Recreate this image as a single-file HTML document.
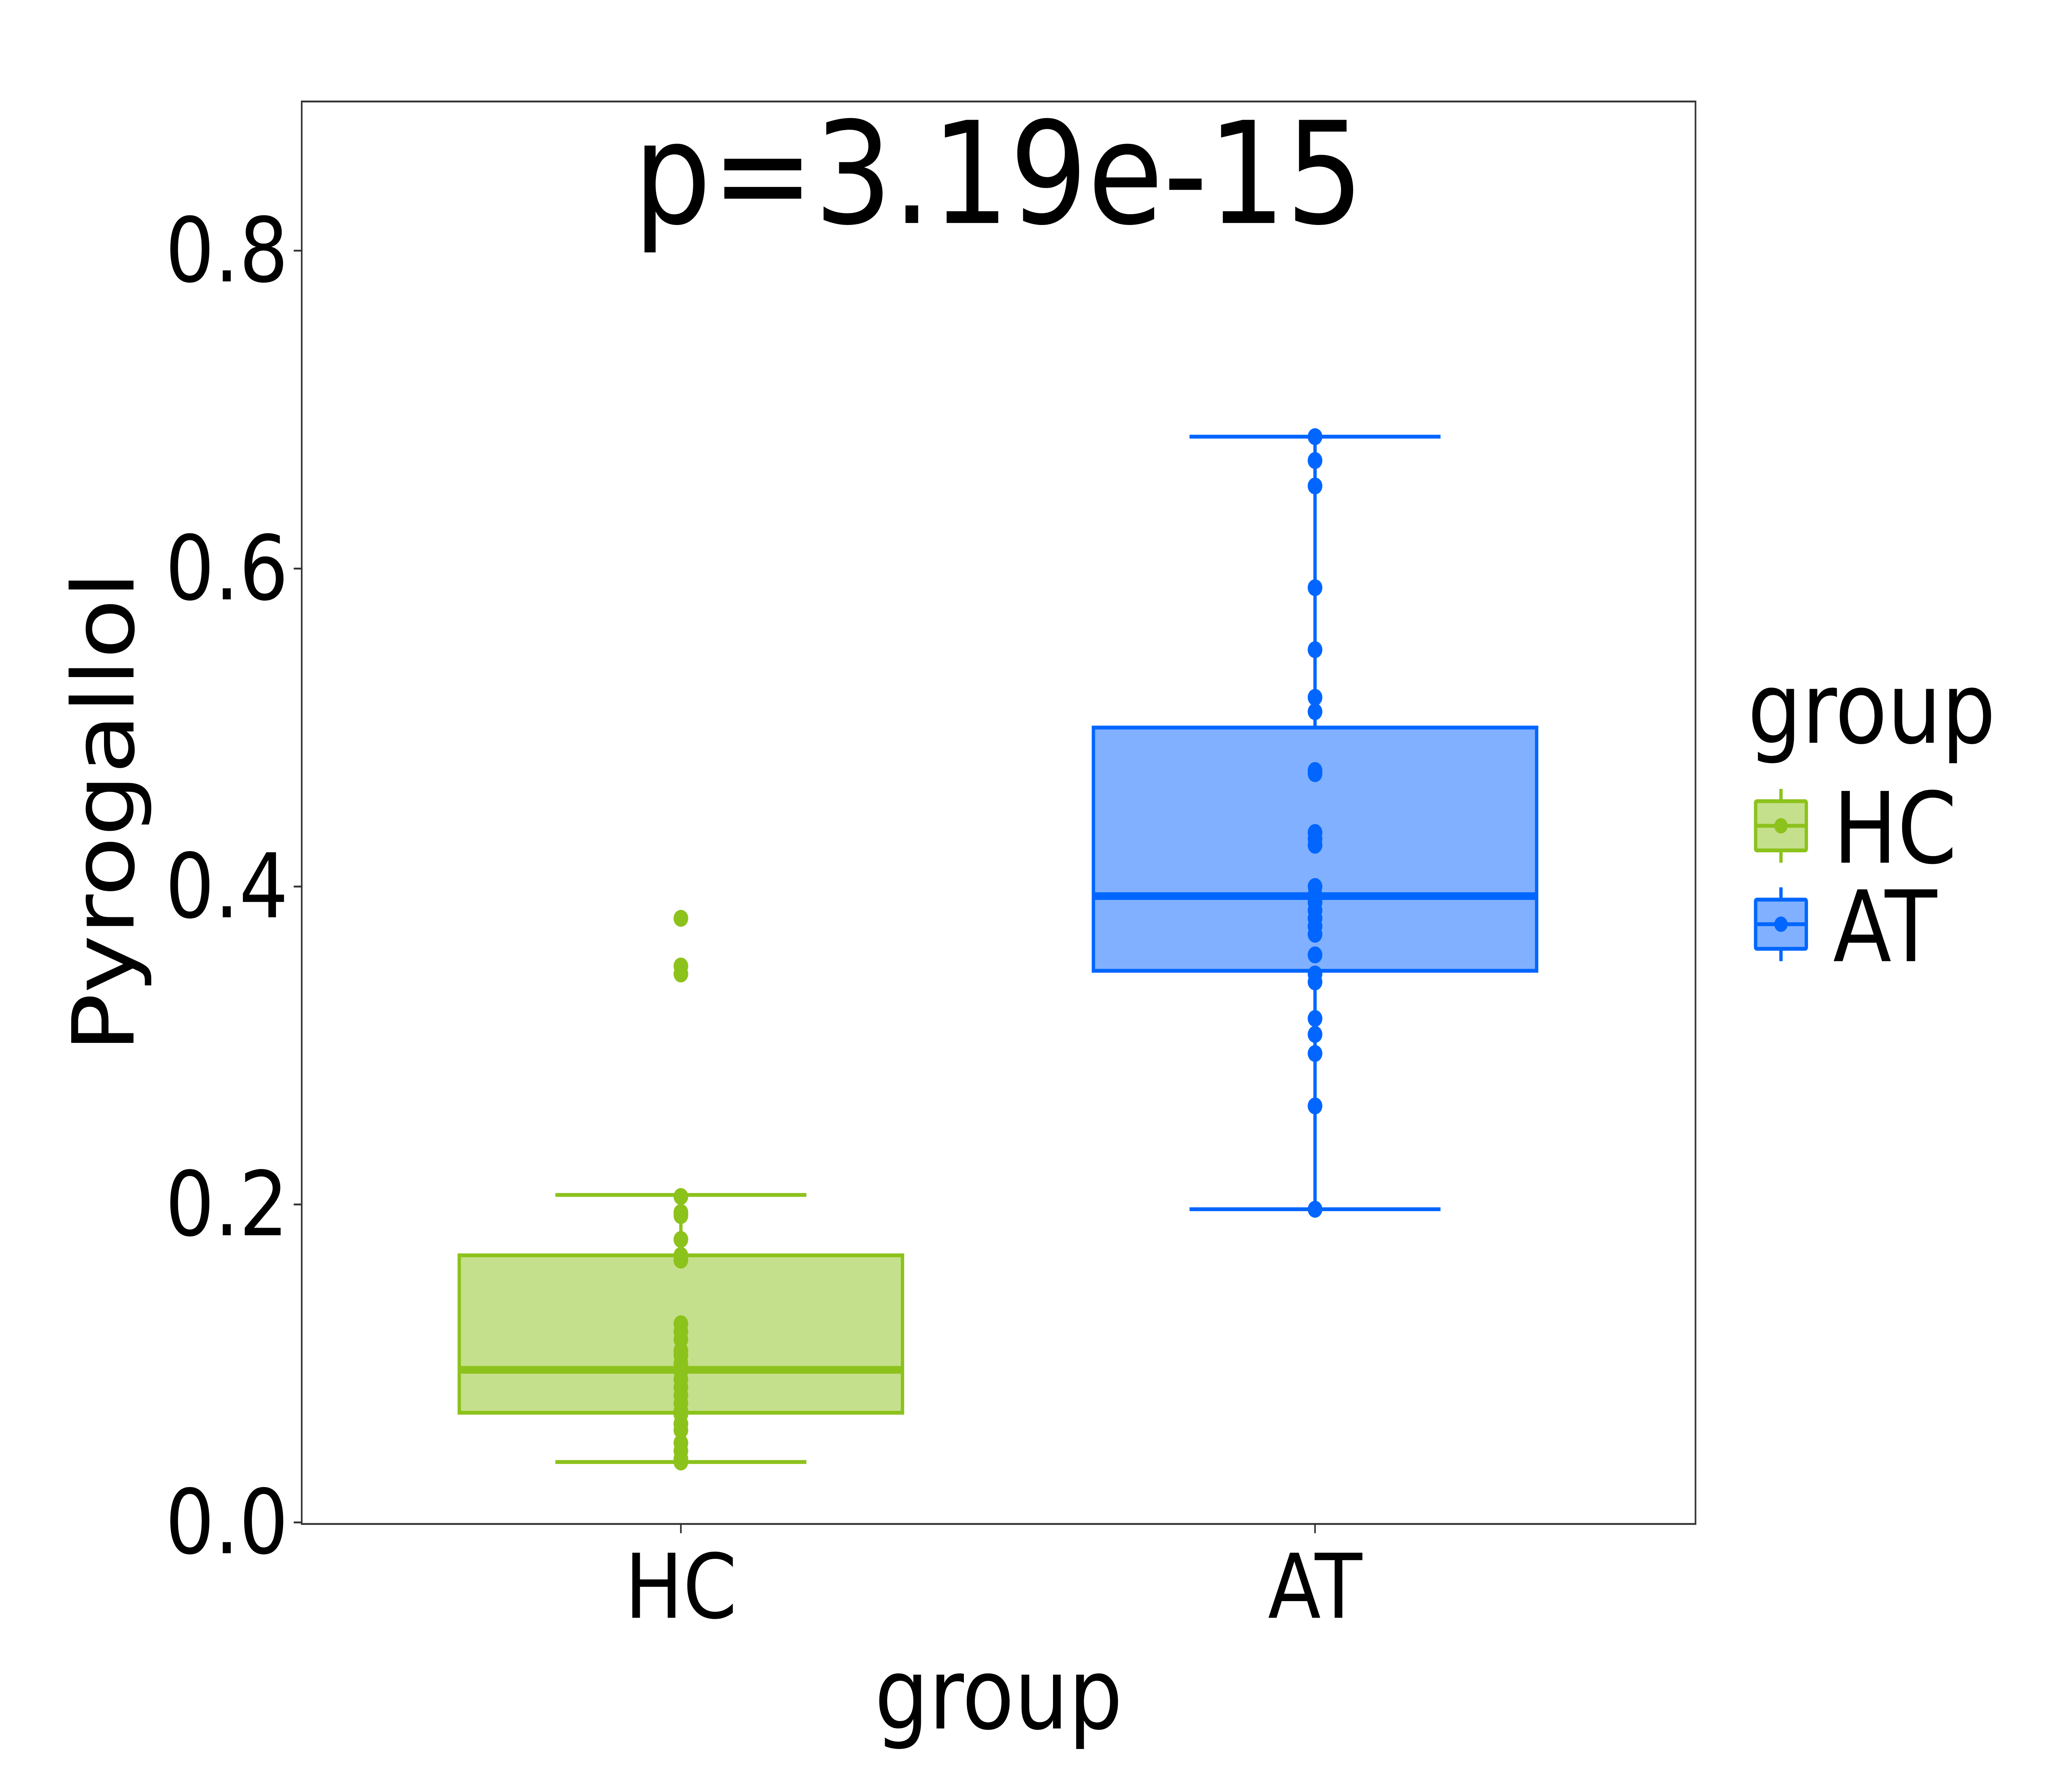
<!DOCTYPE html>
<html><head><meta charset="utf-8"><style>
html,body{margin:0;padding:0;background:#fff;overflow:hidden;width:100%;height:100%;}
svg{display:block;position:fixed;left:0;top:0;width:100vw;height:100vh;font-family:"DejaVu Sans","Liberation Sans",sans-serif;}
</style></head><body>
<svg id="chart" viewBox="0 0 1552 1164" preserveAspectRatio="none" xmlns="http://www.w3.org/2000/svg">
<rect x="0" y="0" width="1552" height="1164" fill="#fff"/>
<g id="plot"></g>
</svg>
<script>
const categories = ["HC","AT"];
const fills = ["#c5e08c","#80b0ff"];
const strokes = ["#8cc21c","#0066ff"];
const q1 = [0.069,0.347];
const medians = [0.096,0.394];
const q3 = [0.168,0.500];
const whiskLo = [0.038,0.197];
const whiskHi = [0.206,0.683];
const hcPoints = [0.38,0.35,0.345,0.205,0.195,0.193,0.178,0.168,0.165,0.125,0.12,0.115,0.108,0.105,0.1,0.097,0.095,0.09,0.085,0.08,0.075,0.07,0.068,0.062,0.058,0.05,0.045,0.04,0.038];
const atPoints = [0.683,0.668,0.652,0.588,0.549,0.519,0.51,0.473,0.471,0.434,0.43,0.426,0.4,0.395,0.39,0.385,0.38,0.375,0.37,0.357,0.345,0.34,0.317,0.307,0.295,0.262,0.197];
const yTicks = [0.0,0.2,0.4,0.6,0.8];
const yTickLabels = ["0.0","0.2","0.4","0.6","0.8"];

const NS="http://www.w3.org/2000/svg";
const g=document.getElementById('plot');
const PL=226,PT=66,PR=1270,PB=991;
function y(v){return 990-(990-163)*v/0.8;}
function x(i){return 510+i*475;}
function mk(t,a){const e=document.createElementNS(NS,t);for(const k in a)e.setAttribute(k,a[k]);g.appendChild(e);return e;}

const panel=mk('rect',{x:PL,y:PT,width:PR-PL,height:PB-PT,fill:'none',stroke:'#333','stroke-width':1.2});



yTicks.forEach((v,i)=>{
  const t=mk('line',{x1:PL-6,x2:PL,y1:y(v),y2:y(v),stroke:'#333','stroke-width':1.2});
  
  
  const l=mk('text',{x:PL-10,y:y(v)+20,'text-anchor':'end','font-size':58,fill:'#000'});
  l.textContent=yTickLabels[i];
  
  
});
categories.forEach((c,i)=>{
  const t=mk('line',{x1:x(i),x2:x(i),y1:PB,y2:PB+6,stroke:'#333','stroke-width':1.2});
  
  
  const l=mk('text',{x:x(i),y:1052,'text-anchor':'middle','font-size':58,fill:'#000'});
  l.textContent=c;
  
  
});

const pts=[hcPoints,atPoints];
categories.forEach((c,i)=>{
  const cx=x(i),hw=166,cw=94;
  const w1=mk('line',{x1:cx,x2:cx,y1:y(whiskHi[i]),y2:y(whiskLo[i]),stroke:strokes[i],'stroke-width':2.5});
  
  
  [whiskLo[i],whiskHi[i]].forEach(v=>{
    const cap=mk('line',{x1:cx-cw,x2:cx+cw,y1:y(v),y2:y(v),stroke:strokes[i],'stroke-width':2.5});
    
    
  });
  const b=mk('rect',{x:cx-hw,y:y(q3[i]),width:2*hw,height:y(q1[i])-y(q3[i]),fill:fills[i],stroke:strokes[i],'stroke-width':2.5});
  
  
  const m=mk('line',{x1:cx-hw,x2:cx+hw,y1:y(medians[i]),y2:y(medians[i]),stroke:strokes[i],'stroke-width':5});
  
  
  pts[i].forEach(v=>{
    const p=mk('circle',{cx:cx,cy:y(v),r:5.5,fill:strokes[i]});
    
    
  });
});

const title=mk('text',{x:748,y:145,'text-anchor':'middle','font-size':92,fill:'#000'});
title.textContent='p=3.19e-15';


const xt=mk('text',{x:748,y:1124,'text-anchor':'middle','font-size':64,fill:'#000'});
xt.textContent='group';


const yt=mk('text',{x:0,y:0,'text-anchor':'middle','font-size':64,fill:'#000',transform:'translate(100,528) rotate(-90)'});
yt.textContent='Pyrogallol';



const lt=mk('text',{x:1309,y:483,'font-size':64,fill:'#000'});
lt.textContent='group';


categories.forEach((c,i)=>{
  const cy=537+i*64, kx=1334;
  const kl=mk('line',{x1:kx,x2:kx,y1:cy-24,y2:cy+24,stroke:strokes[i],'stroke-width':2.5});
  
  
  const kr=mk('rect',{x:1315,y:cy-16,width:38,height:32,fill:fills[i],stroke:strokes[i],'stroke-width':2.5,rx:1});
  
  
  const km=mk('line',{x1:1315,x2:1353,y1:cy,y2:cy,stroke:strokes[i],'stroke-width':2.5});
  
  
  const kd=mk('circle',{cx:kx,cy:cy,r:5,fill:strokes[i]});
  
  
  const tx=mk('text',{x:1373,y:cy+24,'font-size':64,fill:'#000'});
  tx.textContent=c;
  
  
});
</script>
</body></html>
